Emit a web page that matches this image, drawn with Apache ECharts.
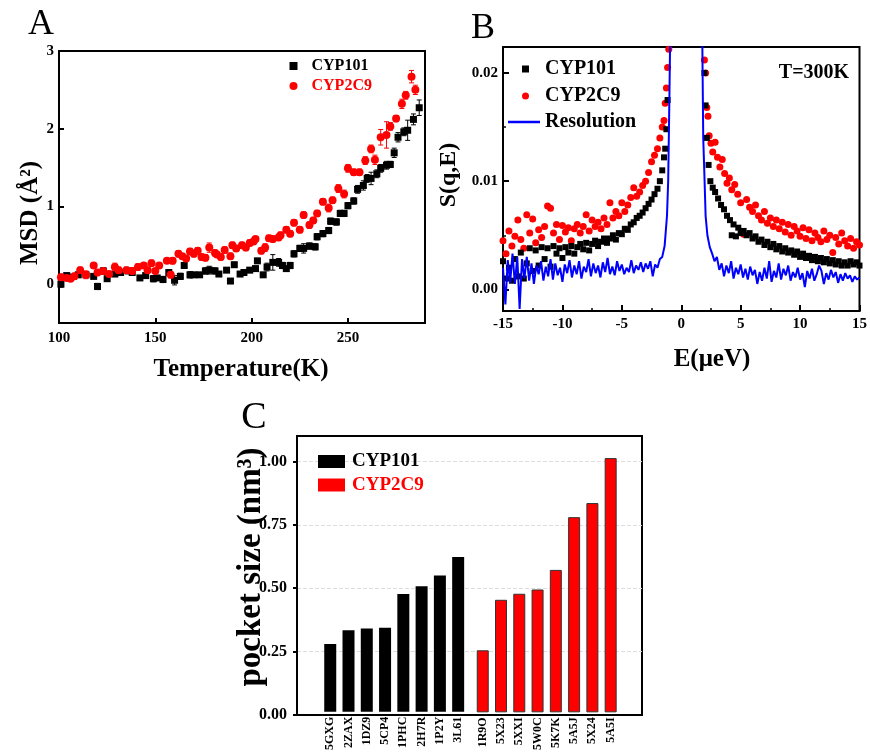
<!DOCTYPE html>
<html><head><meta charset="utf-8">
<script src="https://cdn.jsdelivr.net/npm/echarts@6/dist/echarts.min.js"></script>
<style>html,body{margin:0;padding:0;background:#fff;}#c{width:870px;height:753px;}</style>
</head><body><div id="c"></div>
<script>
// ---------- Panel A data ----------
const a101T = [101,104,106,110,114,118,120,123,125,129,132,136,138,142,145,149,151,154,157,160,163,165,168,170,173,176,178,181,183,187,189,191,194,196,199,202,203,206,208,211,214,216,218,220,222,225,227,230,233,234,237,240,241,244,246,248,250,253,255,258,260,262,265,267,270,272,274,276,279,281,284,287];
const a101Y = [0.00,0.11,0.09,0.12,0.12,0.10,-0.03,0.17,0.07,0.13,0.15,0.17,0.15,0.08,0.11,0.07,0.08,0.06,0.15,0.05,0.10,0.24,0.12,0.12,0.12,0.17,0.18,0.17,0.13,0.18,0.04,0.25,0.13,0.15,0.18,0.20,0.30,0.12,0.22,0.28,0.28,0.24,0.20,0.24,0.39,0.46,0.46,0.49,0.48,0.61,0.65,0.69,0.81,0.80,0.91,0.91,1.01,1.07,1.22,1.27,1.36,1.36,1.42,1.49,1.53,1.54,1.69,1.89,1.96,1.98,2.12,2.27];
const a101E = [0.04,0.03,0.03,0.03,0.03,0.03,0.04,0.04,0.03,0.03,0.03,0.03,0.03,0.03,0.03,0.04,0.03,0.04,0.03,0.06,0.04,0.03,0.04,0.03,0.03,0.04,0.05,0.04,0.03,0.03,0.03,0.03,0.03,0.03,0.03,0.03,0.03,0.03,0.05,0.10,0.05,0.04,0.03,0.04,0.04,0.04,0.06,0.04,0.04,0.04,0.04,0.04,0.04,0.04,0.04,0.04,0.04,0.04,0.05,0.06,0.05,0.08,0.05,0.05,0.05,0.04,0.06,0.06,0.05,0.13,0.07,0.10];
const a2c9T = [101,104,106,108,111,114,118,120,123,126,129,131,135,138,141,144,146,148,150,152,156,158,159,162,164,166,168,170,172,174,176,178,181,182,184,186,189,190,192,195,197,199,201,202,205,207,209,211,214,215,218,220,222,225,227,230,232,234,237,240,242,245,248,250,253,256,259,262,264,267,270,272,275,278,280,283,285];
const a2c9Y = [0.09,0.08,0.07,0.10,0.18,0.12,0.24,0.15,0.17,0.13,0.22,0.18,0.18,0.17,0.22,0.24,0.18,0.27,0.17,0.24,0.30,0.12,0.30,0.39,0.36,0.33,0.42,0.39,0.43,0.35,0.34,0.47,0.40,0.38,0.35,0.44,0.36,0.50,0.46,0.50,0.47,0.53,0.55,0.58,0.43,0.47,0.59,0.58,0.60,0.63,0.70,0.65,0.79,0.70,0.89,0.76,0.82,0.91,1.06,0.98,1.08,1.23,1.16,1.49,1.44,1.44,1.59,1.74,1.60,1.89,1.92,2.03,2.13,2.32,2.43,2.67,2.50];
const a2c9E = [0.04,0.03,0.03,0.04,0.04,0.05,0.03,0.04,0.03,0.03,0.05,0.04,0.04,0.04,0.04,0.03,0.04,0.04,0.03,0.03,0.03,0.04,0.04,0.04,0.03,0.04,0.04,0.04,0.04,0.04,0.04,0.06,0.04,0.03,0.04,0.04,0.04,0.04,0.04,0.04,0.04,0.04,0.04,0.03,0.04,0.05,0.04,0.04,0.04,0.04,0.04,0.04,0.04,0.04,0.04,0.04,0.04,0.04,0.04,0.05,0.04,0.05,0.05,0.05,0.04,0.04,0.05,0.05,0.06,0.10,0.17,0.05,0.04,0.06,0.05,0.08,0.06];
const aTicksX = [100,150,200,250];
const aTicksY = [0,1,2,3];

// ---------- Panel B data ----------
const bCyp101 = [[-15.0,0.0026],[-14.75,0.0010],[-14.5,0.0020],[-14.25,0.0008],[-14.0,0.0028],[-13.75,0.0012],[-13.5,0.0034],[-13.25,0.0010],[-13.0,0.0024],[-12.75,0.0038],[-12.5,0.0017],[-12.25,0.0036],[-12.0,0.0022],[-11.75,0.0039],[-11.5,0.0028],[-11.25,0.0038],[-11.0,0.0021],[-10.75,0.0040],[-10.5,0.0033],[-10.25,0.0038],[-10.0,0.0029],[-9.75,0.0039],[-9.5,0.0034],[-9.25,0.0040],[-9.0,0.0033],[-8.75,0.0039],[-8.5,0.0042],[-8.25,0.0037],[-8.0,0.0043],[-7.75,0.0036],[-7.5,0.0042],[-7.25,0.0045],[-7.0,0.0040],[-6.75,0.0044],[-6.5,0.0047],[-6.25,0.0043],[-6.0,0.0047],[-5.75,0.0050],[-5.5,0.0046],[-5.25,0.0052],[-5.0,0.0051],[-4.75,0.0056],[-4.5,0.0055],[-4.25,0.0060],[-4.0,0.0062],[-3.75,0.0066],[-3.5,0.0068],[-3.25,0.0071],[-3.0,0.0075],[-2.75,0.0079],[-2.5,0.0083],[-2.25,0.0088],[-2.0,0.0093],[-1.8,0.0100],[-1.6,0.0110],[-1.45,0.0122],[-1.35,0.0130],[-1.25,0.0148],[-1.15,0.0175],
[1.95,0.0200],[2.05,0.0170],[2.15,0.0140],[2.3,0.0115],[2.45,0.0100],[2.65,0.0094],[2.85,0.0090],[3.1,0.0084],[3.35,0.0078],[3.6,0.0074],[3.85,0.0068],[4.1,0.0064],[4.25,0.0050],[4.4,0.0060],[4.6,0.0049],[4.8,0.0057],[5.0,0.0052],[5.25,0.0054],[5.5,0.0050],[5.75,0.0052],[6.0,0.0047],[6.25,0.0049],[6.5,0.0044],[6.75,0.0046],[7.0,0.0041],[7.25,0.0044],[7.5,0.0039],[7.75,0.0042],[8.0,0.0037],[8.25,0.0040],[8.5,0.0035],[8.75,0.0038],[9.0,0.0034],[9.25,0.0036],[9.5,0.0032],[9.75,0.0035],[10.0,0.0030],[10.25,0.0033],[10.5,0.0029],[10.75,0.0031],[11.0,0.0027],[11.25,0.0030],[11.5,0.0026],[11.75,0.0029],[12.0,0.0025],[12.25,0.0028],[12.5,0.0024],[12.75,0.0027],[13.0,0.0023],[13.25,0.0026],[13.5,0.0022],[13.75,0.0025],[14.0,0.0022],[14.25,0.0026],[14.5,0.0023],[14.75,0.0025],[15.0,0.0022]];
const bCyp2c9 = [[-15.0,0.0045],[-14.75,0.0033],[-14.5,0.0054],[-14.25,0.0040],[-14.0,0.0049],[-13.75,0.0064],[-13.5,0.0046],[-13.25,0.0038],[-13.0,0.0069],[-12.75,0.0052],[-12.5,0.0065],[-12.25,0.0043],[-12.0,0.0055],[-11.75,0.0048],[-11.5,0.0058],[-11.25,0.0077],[-11.0,0.0075],[-10.75,0.0052],[-10.5,0.0060],[-10.25,0.0046],[-10.0,0.0059],[-9.75,0.0053],[-9.5,0.0057],[-9.25,0.0045],[-9.0,0.0056],[-8.75,0.0060],[-8.5,0.0052],[-8.25,0.0058],[-8.0,0.0069],[-7.75,0.0054],[-7.5,0.0064],[-7.25,0.0058],[-7.0,0.0062],[-6.75,0.0056],[-6.5,0.0066],[-6.25,0.0060],[-6.0,0.0080],[-5.75,0.0066],[-5.5,0.0072],[-5.25,0.0068],[-5.0,0.0080],[-4.75,0.0072],[-4.5,0.0078],[-4.25,0.0085],[-4.0,0.0094],[-3.75,0.0086],[-3.5,0.0090],[-3.25,0.0096],[-3.0,0.0100],[-2.75,0.0108],[-2.5,0.0118],[-2.25,0.0124],[-2.0,0.0130],[-1.8,0.0140],[-1.6,0.0150],[-1.45,0.0156],[-1.35,0.0172],[-1.25,0.0186],[-1.15,0.0205],[-1.05,0.0222],
[1.95,0.0212],[2.05,0.0200],[2.15,0.0168],[2.25,0.0160],[2.35,0.0142],[2.5,0.0135],[2.65,0.0127],[2.85,0.0136],[3.05,0.0122],[3.25,0.0113],[3.45,0.0120],[3.65,0.0107],[3.85,0.0098],[4.05,0.0103],[4.25,0.0092],[4.5,0.0097],[4.75,0.0088],[5.0,0.0080],[5.25,0.0051],[5.5,0.0083],[5.75,0.0076],[6.0,0.0072],[6.25,0.0078],[6.5,0.0068],[6.75,0.0064],[7.0,0.0072],[7.25,0.0061],[7.5,0.0066],[7.75,0.0058],[8.0,0.0064],[8.25,0.0056],[8.5,0.0062],[8.75,0.0053],[9.0,0.0060],[9.25,0.0050],[9.5,0.0058],[9.75,0.0054],[10.0,0.0049],[10.25,0.0057],[10.5,0.0047],[10.75,0.0055],[11.0,0.0045],[11.25,0.0052],[11.5,0.0048],[11.75,0.0044],[12.0,0.0054],[12.25,0.0046],[12.5,0.0050],[12.75,0.0034],[13.0,0.0048],[13.25,0.0042],[13.5,0.0052],[13.75,0.0045],[14.0,0.0040],[14.25,0.0047],[14.5,0.0038],[14.75,0.0044],[15.0,0.0041]];
const bResolution = [[-15.0,0.0020],[-14.8,-0.0014],[-14.6,0.0027],[-14.4,0.0006],[-14.2,0.0033],[-14.0,0.0005],[-13.8,0.0030],[-13.6,-0.0018],[-13.4,0.0028],[-13.2,0.0010],[-13.0,0.0030],[-12.8,0.0008],[-12.6,0.0024],[-12.4,0.0005],[-12.2,0.0022],[-12.0,0.0014],[-11.8,0.0026],[-11.6,0.0008],[-11.4,0.0021],[-11.2,0.0012],[-11.0,0.0028],[-10.8,0.0009],[-10.6,0.0024],[-10.4,0.0013],[-10.2,0.0020],[-10.0,0.0007],[-9.8,0.0023],[-9.6,0.0015],[-9.4,0.0027],[-9.2,0.0011],[-9.0,0.0022],[-8.8,0.0014],[-8.6,0.0026],[-8.4,0.0010],[-8.2,0.0021],[-8.0,0.0016],[-7.8,0.0028],[-7.6,0.0012],[-7.4,0.0024],[-7.2,0.0015],[-7.0,0.0022],[-6.8,0.0011],[-6.6,0.0025],[-6.4,0.0016],[-6.2,0.0029],[-6.0,0.0014],[-5.8,0.0021],[-5.6,0.0013],[-5.4,0.0026],[-5.2,0.0017],[-5.0,0.0023],[-4.8,0.0014],[-4.6,0.0020],[-4.4,0.0016],[-4.2,0.0027],[-4.0,0.0015],[-3.8,0.0022],[-3.6,0.0018],[-3.4,0.0025],[-3.2,0.0016],[-3.0,0.0024],[-2.8,0.0019],[-2.6,0.0026],[-2.4,0.0012],[-2.2,0.0023],[-2.0,0.0020],[-1.8,0.0028],[-1.6,0.0030],[-1.4,0.0040],[-1.2,0.0068],[-1.1,0.0100],[-1.0,0.0175],[-0.9,0.0260],[-0.85,0.0400],[0.45,0.2000],[1.7,0.0400],[1.78,0.0220],[1.85,0.0140],[1.95,0.0105],[2.05,0.0068],[2.2,0.0050],[2.4,0.0039],[2.6,0.0033],[2.8,0.0026],[3.0,0.0030],[3.2,0.0018],[3.4,0.0024],[3.6,0.0012],[3.8,0.0022],[4.0,0.0015],[4.2,0.0026],[4.4,0.0010],[4.6,0.0020],[4.8,0.0014],[5.0,0.0023],[5.2,0.0011],[5.4,0.0019],[5.6,0.0009],[5.8,0.0021],[6.0,0.0013],[6.2,0.0018],[6.4,0.0005],[6.6,0.0016],[6.8,0.0008],[7.0,0.0020],[7.2,0.0010],[7.4,0.0026],[7.6,0.0007],[7.8,0.0017],[8.0,0.0011],[8.2,0.0024],[8.4,0.0009],[8.6,0.0019],[8.8,0.0013],[9.0,0.0022],[9.2,0.0008],[9.4,0.0016],[9.6,0.0011],[9.8,0.0020],[10.0,0.0009],[10.2,0.0015],[10.4,0.0002],[10.6,0.0017],[10.8,0.0010],[11.0,0.0019],[11.2,0.0008],[11.4,0.0014],[11.6,0.0022],[11.8,0.0017],[12.0,0.0005],[12.2,0.0015],[12.4,0.0009],[12.6,0.0018],[12.8,0.0011],[13.0,0.0016],[13.2,0.0006],[13.4,0.0014],[13.6,0.0008],[13.8,0.0015],[14.0,0.0010],[14.2,0.0013],[14.4,0.0007],[14.6,0.0012],[14.8,0.0009],[15.0,0.0011]];
const bTicksY = [0, 0.01, 0.02];
const bMinorY = [0.005, 0.015];

// ---------- Panel C data ----------
const cCats101 = ['5GXG','2ZAX','1DZ9','5CP4','1PHC','2H7R','1P2Y','3L61'];
const cVals101 = [0.27,0.325,0.332,0.335,0.47,0.50,0.543,0.617];
const cCats2c9 = ['1R9O','5X23','5XXI','5W0C','5K7K','5A5J','5X24','5A5I'];
const cVals2c9 = [0.247,0.448,0.472,0.489,0.567,0.777,0.833,1.012];
const cTicksY = [0, 0.25, 0.5, 0.75, 1.0];

// ---------- build ----------
const SERIF = 'Liberation Serif';
const RED = '#ff0000', BLUE = '#0000ff';
const lab = (size) => ({fontFamily: SERIF, fontWeight: 'bold', fontSize: size, color: '#000'});
const zip3 = (t, y, e) => t.map((v, i) => [v, y[i], e[i]]);
const zip2 = (t, y) => t.map((v, i) => [v, y[i]]);

function errRender(color) {
  return function (params, api) {
    const x = api.value(0), y = api.value(1), e = api.value(2);
    const p1 = api.coord([x, y + e]), p2 = api.coord([x, y - e]);
    const w = 2.5, st = {stroke: color, lineWidth: 1};
    return {type: 'group', children: [
      {type: 'line', shape: {x1: p1[0], y1: p1[1], x2: p2[0], y2: p2[1]}, style: st},
      {type: 'line', shape: {x1: p1[0] - w, y1: p1[1], x2: p1[0] + w, y2: p1[1]}, style: st},
      {type: 'line', shape: {x1: p2[0] - w, y1: p2[1], x2: p2[0] + w, y2: p2[1]}, style: st}
    ]};
  };
}

const axLine = {show: true, onZero: false, lineStyle: {color: '#000', width: 2}};
const gridStyle = {show: true, borderColor: '#000', borderWidth: 2, backgroundColor: 'transparent'};

const option = {
  animation: false,
  backgroundColor: '#fff',
  grid: [
    Object.assign({left: 59, top: 51, width: 366, height: 272}, gridStyle),
    Object.assign({left: 503, top: 47, width: 360, height: 264}, gridStyle),
    Object.assign({left: 297, top: 436, width: 345, height: 279}, gridStyle),
    {left: 321.1, top: 436, width: 146.2, height: 279},
    {left: 473.6, top: 436, width: 146.2, height: 279}
  ],
  xAxis: [
    {gridIndex: 0, type: 'value', min: 100, max: 290, axisLine: axLine,
     axisTick: {inside: true, length: 5, customValues: aTicksX, lineStyle: {color: '#000', width: 2}},
     axisLabel: Object.assign({customValues: aTicksX, margin: 8}, lab(15)), splitLine: {show: false}},
    {gridIndex: 1, type: 'value', min: -15, max: 15, interval: 5, axisLine: axLine,
     axisTick: {inside: true, length: 6, lineStyle: {color: '#000', width: 2}},
     minorTick: {show: true, splitNumber: 2, length: 3, lineStyle: {color: '#000', width: 1.5}},
     axisLabel: Object.assign({margin: 6}, lab(15)), splitLine: {show: false}},
    {gridIndex: 2, type: 'value', min: 0, max: 1, axisLine: axLine, axisTick: {show: false},
     axisLabel: {show: false}, splitLine: {show: false}},
    {gridIndex: 3, type: 'category', data: cCats101, axisLine: {show: false}, axisTick: {show: false},
     axisLabel: Object.assign({rotate: 90, margin: 5, interval: 0}, lab(12))},
    {gridIndex: 4, type: 'category', data: cCats2c9, axisLine: {show: false}, axisTick: {show: false},
     axisLabel: Object.assign({rotate: 90, margin: 5, interval: 0}, lab(12))}
  ],
  yAxis: [
    {gridIndex: 0, type: 'value', min: -0.5, max: 3, axisLine: axLine,
     axisTick: {inside: true, length: 5, customValues: aTicksY, lineStyle: {color: '#000', width: 2}},
     axisLabel: Object.assign({customValues: aTicksY, margin: 5}, lab(15)), splitLine: {show: false}},
    {gridIndex: 1, type: 'value', position: 'left', min: -0.002, max: 0.0224, axisLine: axLine,
     axisTick: {inside: true, length: 6, customValues: bTicksY, lineStyle: {color: '#000', width: 2}},
     axisLabel: Object.assign({customValues: bTicksY, margin: 5, formatter: v => v.toFixed(2)}, lab(15)),
     splitLine: {show: false}},
    {gridIndex: 1, type: 'value', position: 'left', min: -0.002, max: 0.0224, axisLine: {show: false, onZero: false},
     axisTick: {inside: true, length: 3, customValues: bMinorY, lineStyle: {color: '#000', width: 1.5}},
     axisLabel: {show: false}, splitLine: {show: false}},
    {gridIndex: 2, type: 'value', min: 0, max: 1.1, interval: 0.25, axisLine: axLine,
     axisTick: {inside: false, length: 4, customValues: cTicksY, lineStyle: {color: '#000', width: 2}},
     axisLabel: Object.assign({customValues: cTicksY, margin: 10, formatter: v => v.toFixed(2)}, lab(16)),
     splitLine: {show: true, lineStyle: {color: '#dddddd', type: 'dashed', width: 1}}},
    {gridIndex: 3, type: 'value', min: 0, max: 1.1, show: false},
    {gridIndex: 4, type: 'value', min: 0, max: 1.1, show: false}
  ],
  legend: [
    {left: 289.5, top: 58, orient: 'vertical', itemWidth: 8, itemHeight: 8, itemGap: 4, padding: 0,
     selectedMode: false, textStyle: Object.assign({lineHeight: 16, padding: [0, 0, 0, 9]}, lab(16)),
     data: [{name: 'CYP101', icon: 'rect'}, {name: 'CYP2C9', icon: 'circle', textStyle: {color: RED}}]},
    {left: 522, top: 59, orient: 'vertical', itemWidth: 7, itemHeight: 7, itemGap: 7, padding: 0,
     selectedMode: false, textStyle: Object.assign({lineHeight: 20, padding: [0, 0, 0, 11]}, lab(20)),
     data: [{name: 'CYP101', icon: 'rect'}, {name: 'CYP2C9', icon: 'circle'}]},
    {left: 508, top: 112, orient: 'vertical', itemWidth: 32, itemHeight: 2.5, padding: 0,
     selectedMode: false, textStyle: Object.assign({lineHeight: 20}, lab(20)),
     data: [{name: 'Resolution', icon: 'rect'}]},
    {left: 318, top: 452, orient: 'vertical', itemWidth: 27, itemHeight: 13, itemGap: 4.5, padding: 0,
     selectedMode: false, textStyle: Object.assign({lineHeight: 19, padding: [0, 0, 0, 2]}, lab(19)),
     data: [{name: 'CYP101', icon: 'rect'}, {name: 'CYP2C9', icon: 'rect', textStyle: {color: RED}}]}
  ],
  graphic: [
    {type: 'text', x: 41, y: 25, style: {text: 'A', font: '36px "Liberation Serif"', fill: '#000', textAlign: 'center', textVerticalAlign: 'middle'}},
    {type: 'text', x: 483, y: 29, style: {text: 'B', font: '36px "Liberation Serif"', fill: '#000', textAlign: 'center', textVerticalAlign: 'middle'}},
    {type: 'text', x: 254, y: 418, style: {text: 'C', font: '38px "Liberation Serif"', fill: '#000', textAlign: 'center', textVerticalAlign: 'middle'}},
    {type: 'text', x: 31, y: 213, rotation: Math.PI / 2, style: {text: 'MSD (Å²)', font: 'bold 25px "Liberation Serif"', fill: '#000', textAlign: 'center', textVerticalAlign: 'middle'}},
    {type: 'text', x: 241, y: 370, style: {text: 'Temperature(K)', font: 'bold 25px "Liberation Serif"', fill: '#000', textAlign: 'center', textVerticalAlign: 'middle'}},
    {type: 'text', x: 449, y: 175, rotation: Math.PI / 2, style: {text: 'S(q,E)', font: 'bold 24px "Liberation Serif"', fill: '#000', textAlign: 'center', textVerticalAlign: 'middle'}},
    {type: 'text', x: 712, y: 360, style: {text: 'E(μeV)', font: 'bold 25px "Liberation Serif"', fill: '#000', textAlign: 'center', textVerticalAlign: 'middle'}},
    {type: 'text', x: 814, y: 73, style: {text: 'T=300K', font: 'bold 20px "Liberation Serif"', fill: '#000', textAlign: 'center', textVerticalAlign: 'middle'}},
    {type: 'text', x: 251, y: 567, rotation: Math.PI / 2, style: {text: 'pocket size (nm³)', font: 'bold 33px "Liberation Serif"', fill: '#000', textAlign: 'center', textVerticalAlign: 'middle'}}
  ],
  series: [
    // Panel A
    {type: 'custom', name: 'errA101', xAxisIndex: 0, yAxisIndex: 0, renderItem: errRender('#000'), data: zip3(a101T, a101Y, a101E), encode: {x: 0, y: 1}, silent: true, z: 2},
    {type: 'scatter', name: 'CYP101', xAxisIndex: 0, yAxisIndex: 0, symbol: 'rect', symbolSize: 7, itemStyle: {color: '#000', opacity: 1}, data: zip2(a101T, a101Y), z: 3},
    {type: 'custom', name: 'errA2c9', xAxisIndex: 0, yAxisIndex: 0, renderItem: errRender(RED), data: zip3(a2c9T, a2c9Y, a2c9E), encode: {x: 0, y: 1}, silent: true, z: 4},
    {type: 'scatter', name: 'CYP2C9', xAxisIndex: 0, yAxisIndex: 0, symbol: 'circle', symbolSize: 8, itemStyle: {color: RED, opacity: 1}, data: zip2(a2c9T, a2c9Y), z: 5},
    // Panel B
    {type: 'scatter', name: 'CYP2C9', xAxisIndex: 1, yAxisIndex: 1, symbol: 'circle', symbolSize: 7, itemStyle: {color: RED, opacity: 1}, data: bCyp2c9, z: 3},
    {type: 'scatter', name: 'CYP101', xAxisIndex: 1, yAxisIndex: 1, symbol: 'rect', symbolSize: 6, itemStyle: {color: '#000', opacity: 1}, data: bCyp101, z: 4},
    {type: 'line', name: 'Resolution', xAxisIndex: 1, yAxisIndex: 1, symbol: 'none', showSymbol: false, lineStyle: {color: BLUE, width: 2}, itemStyle: {color: BLUE}, data: bResolution, z: 5, clip: true},
    // Panel C
    {type: 'bar', name: 'CYP101', xAxisIndex: 3, yAxisIndex: 4, barWidth: 12, itemStyle: {color: '#000'}, data: cVals101},
    {type: 'bar', name: 'CYP2C9', xAxisIndex: 4, yAxisIndex: 5, barWidth: 12, itemStyle: {color: RED, borderColor: '#333', borderWidth: 1}, data: cVals2c9}
  ]
};
const chart = echarts.init(document.getElementById('c'), null, {renderer: 'canvas'});
chart.setOption(option);
</script></body></html>
